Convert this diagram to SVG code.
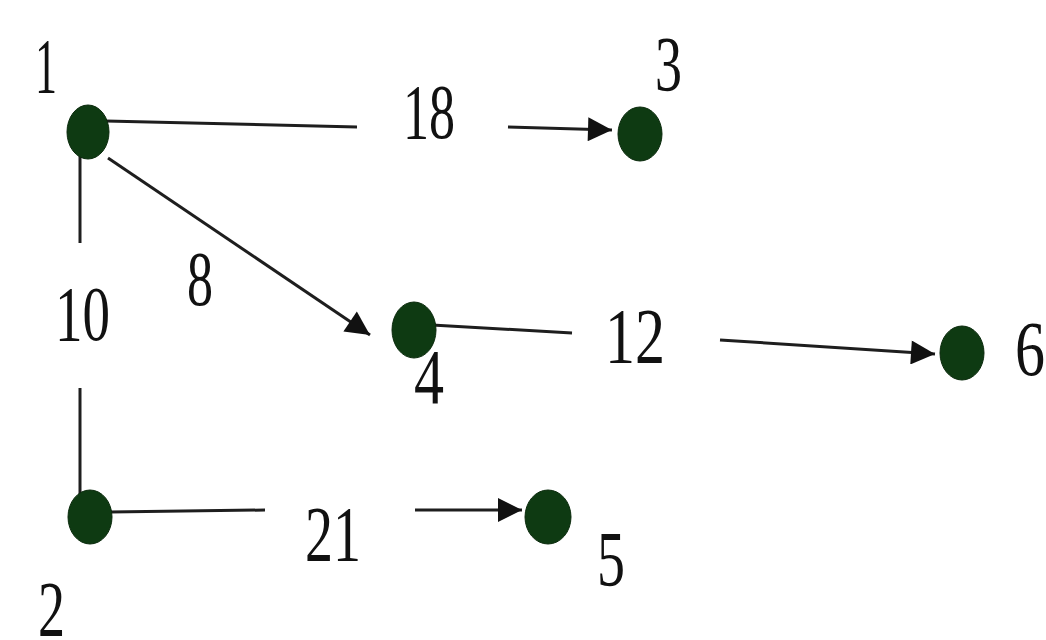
<svg xmlns="http://www.w3.org/2000/svg" width="1046" height="640" viewBox="0 0 1046 640">
<defs>
<style>
.node{fill:#0e3a12;stroke:#0a2a0c;stroke-width:1}
.edge{stroke:#1e1e1e;stroke-width:3;fill:none}
.lbl{font-family:"Liberation Serif",serif;font-size:78px;fill:#111}
</style>
<marker id="ah" viewBox="0 0 10 10" refX="10" refY="5" markerWidth="9" markerHeight="8" markerUnits="strokeWidth" orient="auto">
<path d="M0,0 L10,5 L0,10 z" fill="#111"/>
</marker>
</defs>
<rect width="1046" height="640" fill="#fff"/>
<g id="connectors">
<line class="edge" x1="106" y1="121" x2="357" y2="127"/>
<line class="edge" x1="508" y1="127" x2="612" y2="130" marker-end="url(#ah)"/>
<line class="edge" x1="108" y1="158" x2="370" y2="335" marker-end="url(#ah)"/>
<line class="edge" x1="80" y1="155" x2="80" y2="243"/>
<line class="edge" x1="80" y1="388" x2="80" y2="495"/>
<line class="edge" x1="432" y1="325" x2="572" y2="333"/>
<line class="edge" x1="720" y1="340" x2="935" y2="354" marker-end="url(#ah)"/>
<line class="edge" x1="110" y1="512" x2="265" y2="510"/>
<line class="edge" x1="415" y1="510" x2="522" y2="510" marker-end="url(#ah)"/>
</g>
<g id="edge-labels">
<text class="lbl" x="403" y="138" textLength="52" lengthAdjust="spacingAndGlyphs">18</text>
<text class="lbl" x="187" y="305" textLength="26" lengthAdjust="spacingAndGlyphs">8</text>
<text class="lbl" x="55" y="340" textLength="55" lengthAdjust="spacingAndGlyphs">10</text>
<text class="lbl" x="605" y="362" textLength="60" lengthAdjust="spacingAndGlyphs">12</text>
<text class="lbl" x="305" y="560" textLength="56" lengthAdjust="spacingAndGlyphs">21</text>
</g>
<g id="node1"><ellipse class="node" cx="88" cy="132" rx="21" ry="27"/><text class="lbl" x="35" y="92" textLength="22" lengthAdjust="spacingAndGlyphs">1</text></g>
<g id="node2"><ellipse class="node" cx="90" cy="517" rx="22" ry="27"/><text class="lbl" x="38" y="635" textLength="27" lengthAdjust="spacingAndGlyphs">2</text></g>
<g id="node3"><ellipse class="node" cx="640" cy="134" rx="22" ry="27"/><text class="lbl" x="655" y="90" textLength="27" lengthAdjust="spacingAndGlyphs">3</text></g>
<g id="node4"><ellipse class="node" cx="414" cy="330" rx="22" ry="28"/><text class="lbl" x="414" y="403" textLength="30" lengthAdjust="spacingAndGlyphs">4</text></g>
<g id="node5"><ellipse class="node" cx="548" cy="517" rx="23" ry="27"/><text class="lbl" x="597" y="585" textLength="28" lengthAdjust="spacingAndGlyphs">5</text></g>
<g id="node6"><ellipse class="node" cx="962" cy="353" rx="22" ry="27"/><text class="lbl" x="1015" y="375" textLength="30" lengthAdjust="spacingAndGlyphs">6</text></g>
</svg>
